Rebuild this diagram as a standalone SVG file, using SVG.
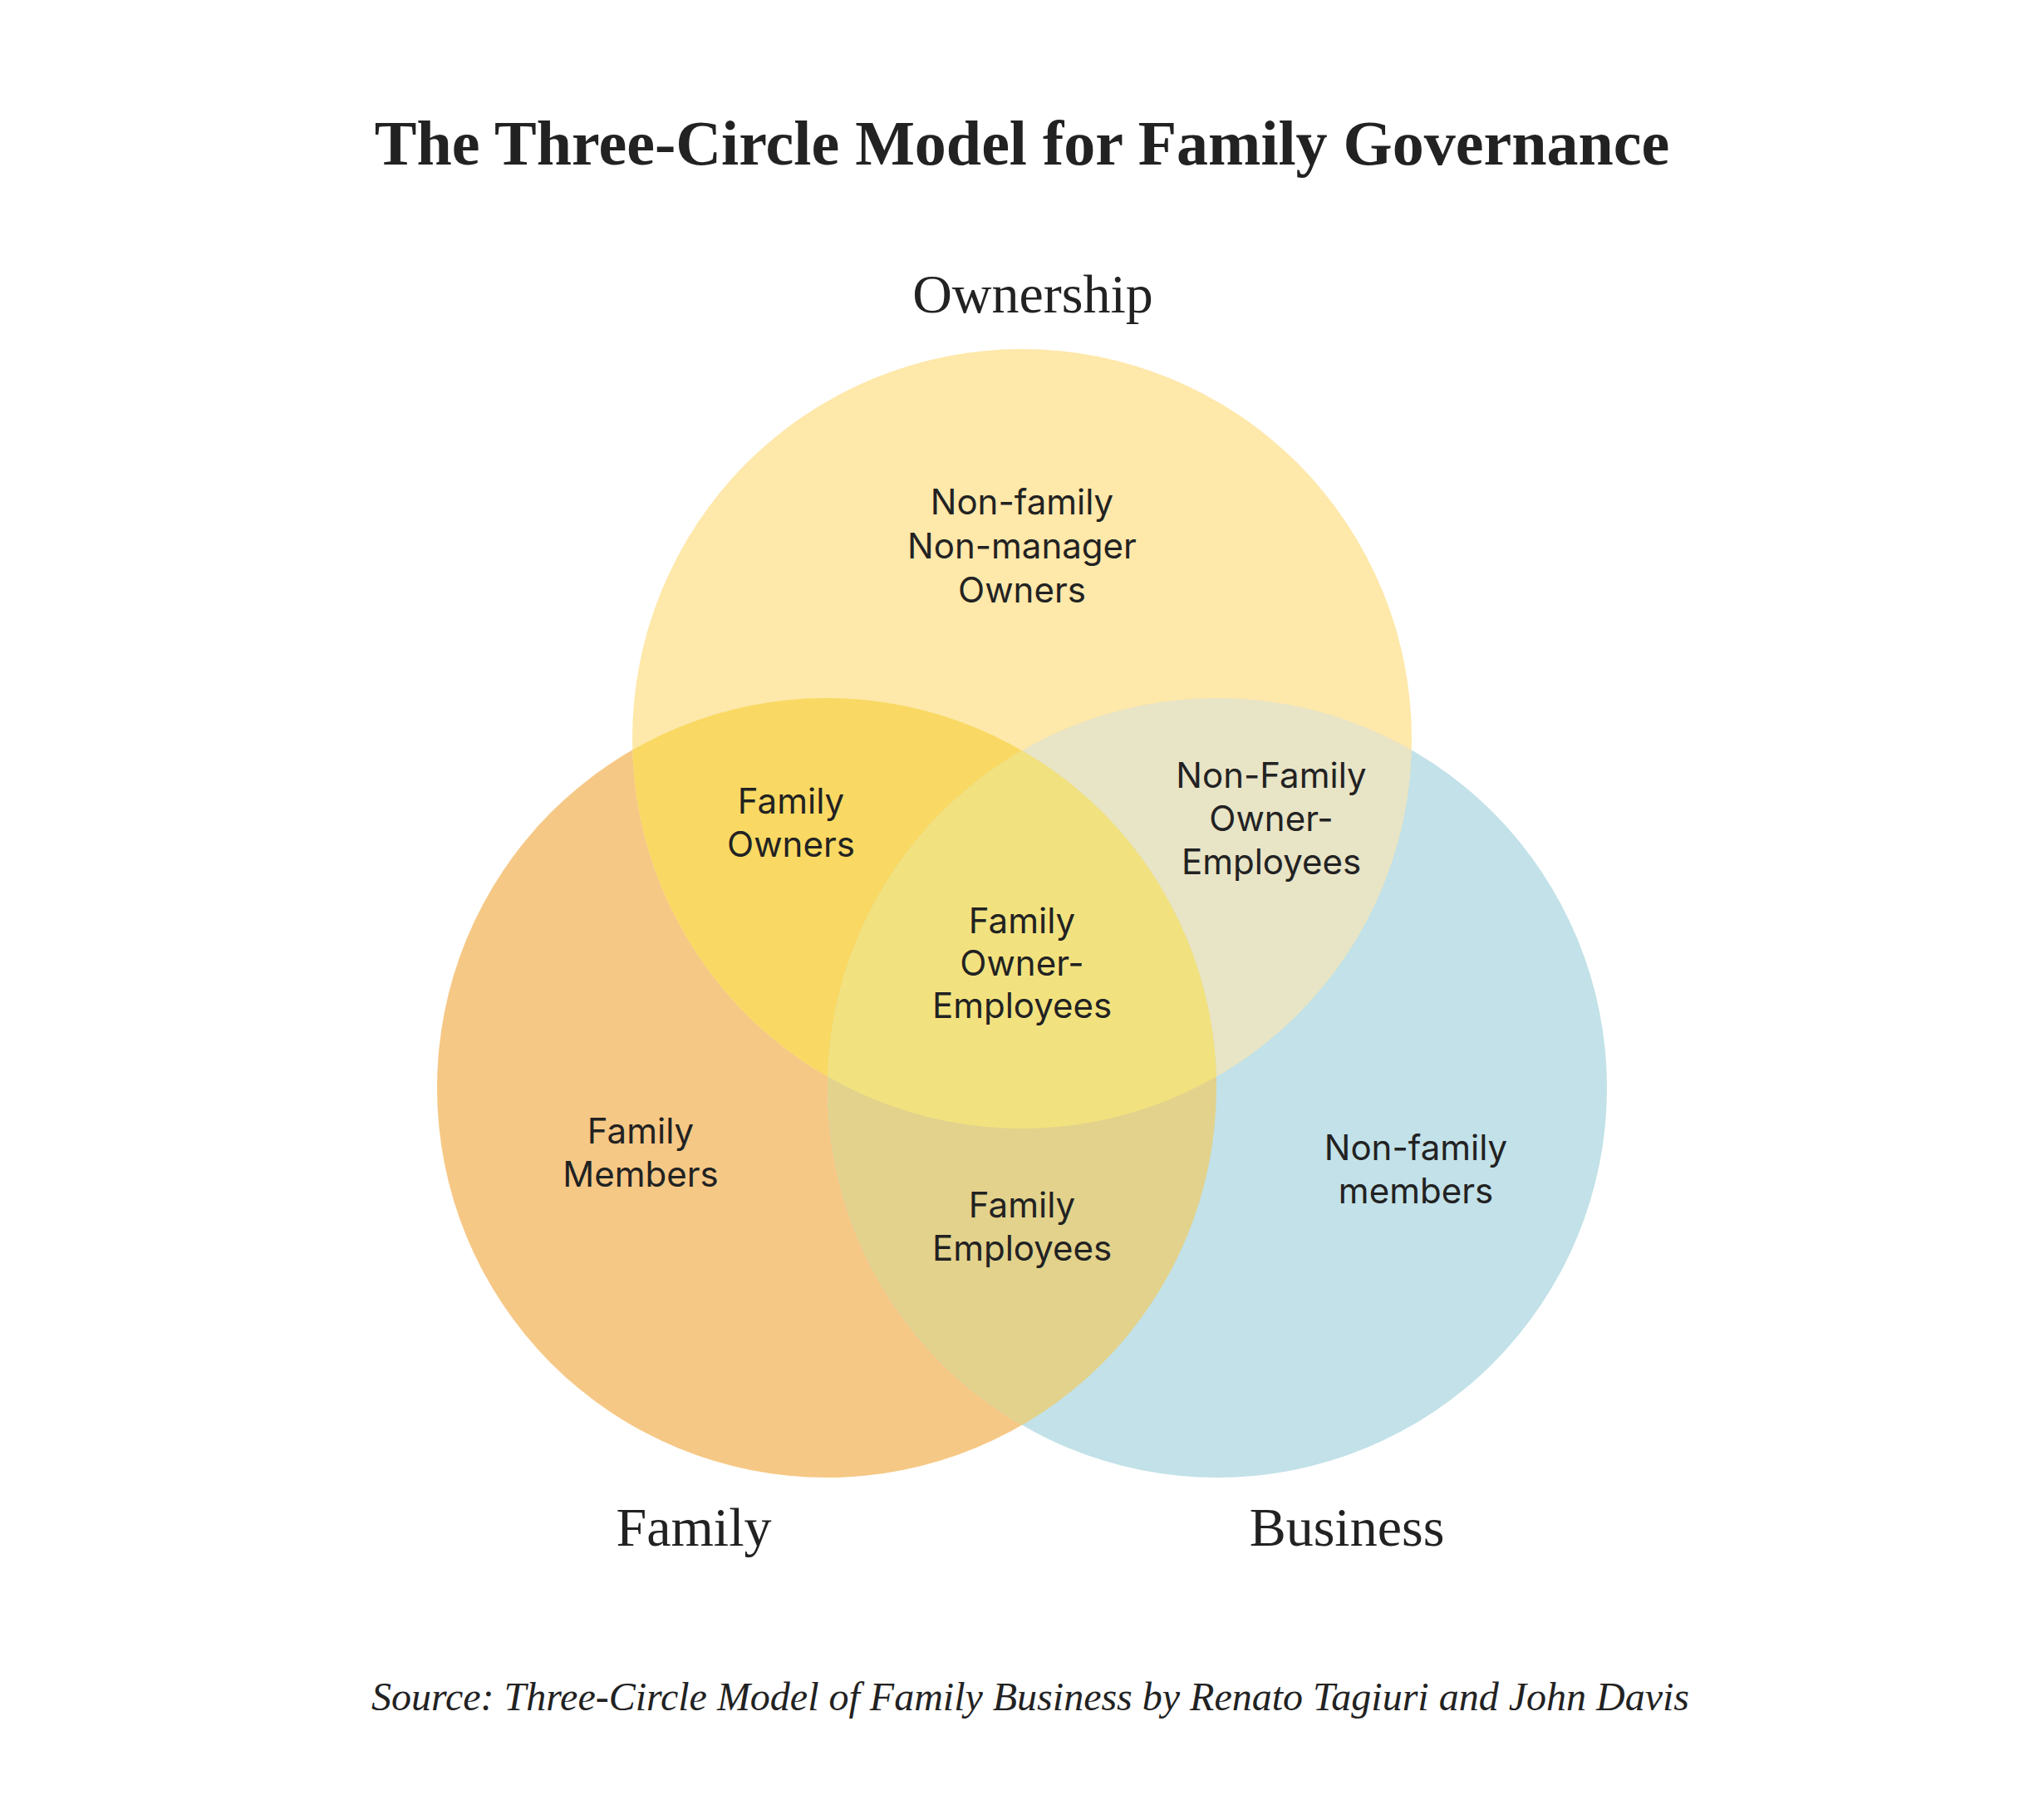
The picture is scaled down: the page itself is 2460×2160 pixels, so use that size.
<svg xmlns="http://www.w3.org/2000/svg" width="2460" height="2160" viewBox="0 0 2460 2160">
<style>
.title{font-family:"Liberation Serif","Times New Roman",serif;font-weight:bold;font-size:76px;fill:#222;text-anchor:middle}
.set{font-family:"Liberation Serif","Times New Roman",serif;font-size:66px;fill:#222;text-anchor:middle}
.lbl{font-family:Inter,"Noto Sans","Liberation Sans",sans-serif;font-size:42px;fill:#222;text-anchor:middle}
.src{font-family:"Liberation Serif","Times New Roman",serif;font-style:italic;font-size:48px;fill:#222;text-anchor:middle}
</style>
<defs>
<clipPath id="cOwn"><circle cx="1230" cy="889" r="469"/></clipPath>
<clipPath id="cFam"><circle cx="995" cy="1309" r="469"/></clipPath>
</defs>
<rect width="2460" height="2160" fill="#fff"/>
<text class="title" x="1230" y="198">The Three-Circle Model for Family Governance</text>

<g id="family">
<circle cx="995" cy="1309" r="469" fill="#F6C885"/>
</g>
<g id="business">
<circle cx="1465" cy="1309" r="469" fill="#C2E1E8"/>
</g>
<g id="ownership">
<circle cx="1230" cy="889" r="469" fill="#FEE8AA"/>
</g>
<g id="overlaps">
<g clip-path="url(#cOwn)">
<circle cx="995" cy="1309" r="469" fill="#F9D963"/>
<circle cx="1465" cy="1309" r="469" fill="#E8E4C6"/>
</g>
<g clip-path="url(#cFam)">
<circle cx="1465" cy="1309" r="469" fill="#E2D28C"/>
<g clip-path="url(#cOwn)">
<circle cx="1465" cy="1309" r="469" fill="#F2E27F"/>
</g>
</g>
</g>

<g id="labels-ownership">
<text class="set" x="1243" y="376">Ownership</text>
<text class="lbl" x="1230" y="619">Non-family</text>
<text class="lbl" x="1230" y="672">Non-manager</text>
<text class="lbl" x="1230" y="725">Owners</text>
</g>
<g id="labels-family-owners">
<text class="lbl" x="952" y="979">Family</text>
<text class="lbl" x="952" y="1031">Owners</text>
</g>
<g id="labels-nonfamily-owner-employees">
<text class="lbl" x="1530" y="948">Non-Family</text>
<text class="lbl" x="1530" y="1000">Owner-</text>
<text class="lbl" x="1530" y="1052">Employees</text>
</g>
<g id="labels-family-owner-employees">
<text class="lbl" x="1230" y="1123">Family</text>
<text class="lbl" x="1230" y="1174">Owner-</text>
<text class="lbl" x="1230" y="1225">Employees</text>
</g>
<g id="labels-family-members">
<text class="lbl" x="771" y="1376">Family</text>
<text class="lbl" x="771" y="1428">Members</text>
</g>
<g id="labels-nonfamily-members">
<text class="lbl" x="1704" y="1396">Non-family</text>
<text class="lbl" x="1704" y="1448">members</text>
</g>
<g id="labels-family-employees">
<text class="lbl" x="1230" y="1465">Family</text>
<text class="lbl" x="1230" y="1517">Employees</text>
</g>
<text class="set" x="835" y="1860">Family</text>
<text class="set" x="1621" y="1860">Business</text>
<text class="src" x="1240" y="2058">Source: Three-Circle Model of Family Business by Renato Tagiuri and John Davis</text>
</svg>
